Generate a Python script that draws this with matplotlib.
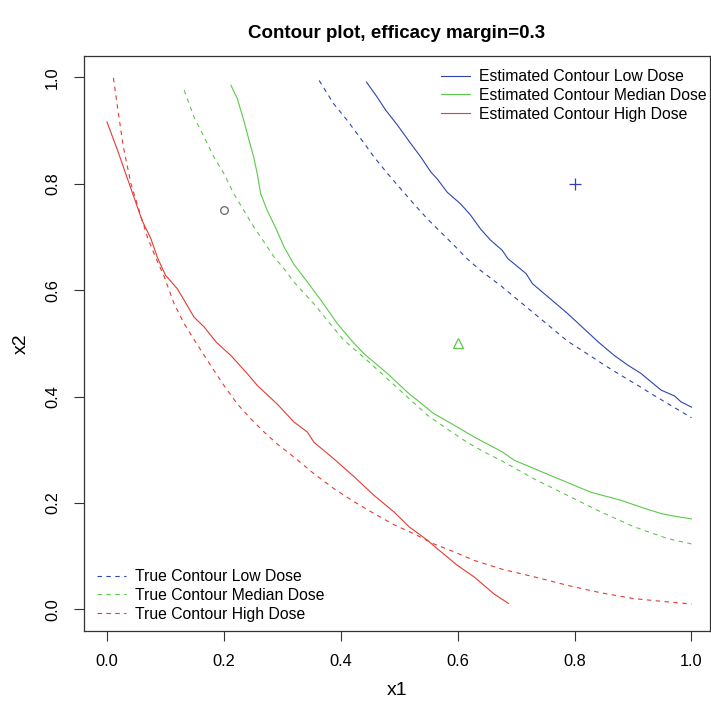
import numpy as np
import matplotlib.pyplot as plt
from matplotlib.lines import Line2D

plt.rcParams['font.family'] = ['Liberation Sans', 'DejaVu Sans']

# contour curves (x1, x2) for each dose level
true_low_x1 = [0.363, 0.388, 0.411, 0.434, 0.457, 0.480, 0.502, 0.525, 0.548, 0.571, 0.594, 0.616,
               0.639, 0.674, 0.731, 0.788, 0.822, 0.851, 0.879, 0.908, 0.936, 0.965, 1.000]
true_low_x2 = [0.994, 0.950, 0.919, 0.885, 0.850, 0.819, 0.791, 0.762, 0.734, 0.709, 0.684, 0.659,
               0.637, 0.608, 0.556, 0.504, 0.480, 0.459, 0.440, 0.421, 0.402, 0.383, 0.360]

est_low_x1 = [0.444, 0.462, 0.477, 0.497, 0.520, 0.537, 0.554, 0.565, 0.582, 0.605, 0.622, 0.639,
              0.656, 0.676, 0.686, 0.717, 0.728, 0.788, 0.841, 0.868, 0.891, 0.914, 0.948, 0.971,
              0.982, 1.000]
est_low_x2 = [0.991, 0.963, 0.938, 0.910, 0.875, 0.850, 0.822, 0.809, 0.784, 0.762, 0.741, 0.715,
              0.694, 0.675, 0.659, 0.631, 0.612, 0.556, 0.502, 0.477, 0.459, 0.443, 0.412, 0.401,
              0.390, 0.380]

true_med_x1 = [0.132, 0.149, 0.166, 0.183, 0.200, 0.217, 0.234, 0.251, 0.269, 0.286, 0.303, 0.320,
               0.354, 0.377, 0.405, 0.445, 0.480, 0.514, 0.548, 0.582, 0.616, 0.645, 0.677, 0.731,
               0.788, 0.845, 0.902, 0.959, 1.000]
true_med_x2 = [0.976, 0.925, 0.888, 0.850, 0.819, 0.781, 0.750, 0.719, 0.690, 0.662, 0.640, 0.615,
               0.574, 0.543, 0.506, 0.468, 0.433, 0.399, 0.365, 0.339, 0.314, 0.296, 0.278, 0.245,
               0.214, 0.183, 0.155, 0.133, 0.123]

est_med_x1 = [0.212, 0.223, 0.234, 0.243, 0.251, 0.257, 0.263, 0.274, 0.289, 0.303, 0.320, 0.343,
              0.366, 0.394, 0.421, 0.440, 0.480, 0.514, 0.559, 0.594, 0.628, 0.676, 0.697, 0.760,
              0.828, 0.879, 0.919, 0.948, 0.971, 1.000]
est_med_x2 = [0.985, 0.960, 0.919, 0.882, 0.850, 0.819, 0.781, 0.750, 0.716, 0.681, 0.648, 0.615,
              0.581, 0.537, 0.502, 0.480, 0.443, 0.408, 0.368, 0.346, 0.324, 0.296, 0.280, 0.251,
              0.220, 0.205, 0.190, 0.180, 0.175, 0.170]

true_high_x1 = [0.011, 0.018, 0.028, 0.041, 0.055, 0.069, 0.083, 0.098, 0.115, 0.132, 0.149, 0.177,
                0.200, 0.223, 0.246, 0.269, 0.291, 0.320, 0.354, 0.388, 0.423, 0.457, 0.491, 0.525,
                0.559, 0.594, 0.628, 0.677, 0.731, 0.788, 0.845, 0.902, 0.959, 1.000]
true_high_x2 = [0.999, 0.944, 0.869, 0.800, 0.750, 0.700, 0.662, 0.625, 0.574, 0.537, 0.507, 0.459,
                0.421, 0.386, 0.358, 0.333, 0.311, 0.286, 0.255, 0.227, 0.202, 0.180, 0.159, 0.142,
                0.123, 0.108, 0.092, 0.075, 0.061, 0.045, 0.031, 0.020, 0.014, 0.010]

est_high_x1 = [0.000, 0.018, 0.032, 0.046, 0.060, 0.075, 0.086, 0.100, 0.120, 0.132, 0.149, 0.166,
               0.187, 0.212, 0.240, 0.257, 0.291, 0.320, 0.343, 0.354, 0.388, 0.423, 0.457, 0.491,
               0.517, 0.548, 0.565, 0.599, 0.628, 0.662, 0.687]
est_high_x2 = [0.916, 0.863, 0.819, 0.775, 0.731, 0.697, 0.662, 0.628, 0.603, 0.581, 0.549, 0.531,
               0.502, 0.477, 0.443, 0.421, 0.386, 0.352, 0.333, 0.314, 0.283, 0.249, 0.214, 0.183,
               0.155, 0.130, 0.114, 0.083, 0.061, 0.029, 0.011]

# dose combinations marked on the plot
pt_circle = (0.2, 0.75)
pt_triangle = (0.6, 0.5)
pt_plus = (0.8, 0.8)

blue = '#2d45b0'
green = '#5cc84a'
red = '#e53b30'

fig = plt.figure(figsize=(7.11, 7.03), dpi=100)
ax = fig.add_axes([83.6 / 711, 72.4 / 703, (710 - 83.6) / 711, 574.6 / 703])

lw = 0.8
dash = (0, (4, 4))
ax.plot(est_low_x1, est_low_x2, color=blue, lw=lw)
ax.plot(est_med_x1, est_med_x2, color=green, lw=lw)
ax.plot(est_high_x1, est_high_x2, color=red, lw=lw)
ax.plot(true_low_x1, true_low_x2, color=blue, lw=lw, ls=dash)
ax.plot(true_med_x1, true_med_x2, color=green, lw=lw, ls=dash)
ax.plot(true_high_x1, true_high_x2, color=red, lw=lw, ls=dash)

ax.plot(*pt_circle, marker='o', ms=5.5, mfc='none', mec='#666666', mew=0.9)
ax.plot(*pt_triangle, marker='^', ms=6.5, mfc='none', mec=green, mew=0.9)
ax.plot(*pt_plus, marker='+', ms=8, color=blue, mew=0.9)

ax.set_xlim(-0.04, (710 - 107) / 584.5)
ax.set_ylim(-0.04, 1.04)
ticks = [0.0, 0.2, 0.4, 0.6, 0.8, 1.0]
ax.set_xticks(ticks)
ax.set_yticks(ticks)
ax.set_xticklabels([f'{t:.1f}' for t in ticks])
ax.set_yticklabels([f'{t:.1f}' for t in ticks], rotation=90, va='center')
ax.tick_params(length=7, width=0.8, labelsize=11.8, pad=10, color='#333333')
for s in ax.spines.values():
    s.set_linewidth(0.9)
    s.set_color('#333333')

ax.set_xlabel('x1', fontsize=14, labelpad=9)
ax.set_ylabel('x2', fontsize=14, labelpad=11)
ax.set_title('Contour plot, efficacy margin=0.3', fontsize=13.5, fontweight='bold', pad=13)

est_handles = [Line2D([], [], color=c, lw=lw) for c in (blue, green, red)]
true_handles = [Line2D([], [], color=c, lw=lw, ls=dash) for c in (blue, green, red)]
leg_kw = dict(frameon=False, fontsize=11.3, handlelength=1.85, handletextpad=0.6,
              labelspacing=0.25, borderpad=0, borderaxespad=0, loc='upper left')
fig.legend(est_handles, ['Estimated Contour Low Dose', 'Estimated Contour Median Dose',
                         'Estimated Contour High Dose'],
           bbox_to_anchor=(441 / 711, 1 - 69 / 703), **leg_kw)
fig.legend(true_handles, ['True Contour Low Dose', 'True Contour Median Dose',
                          'True Contour High Dose'],
           bbox_to_anchor=(97 / 711, 1 - 569 / 703), **leg_kw)

fig.savefig('out.png', dpi=100)
